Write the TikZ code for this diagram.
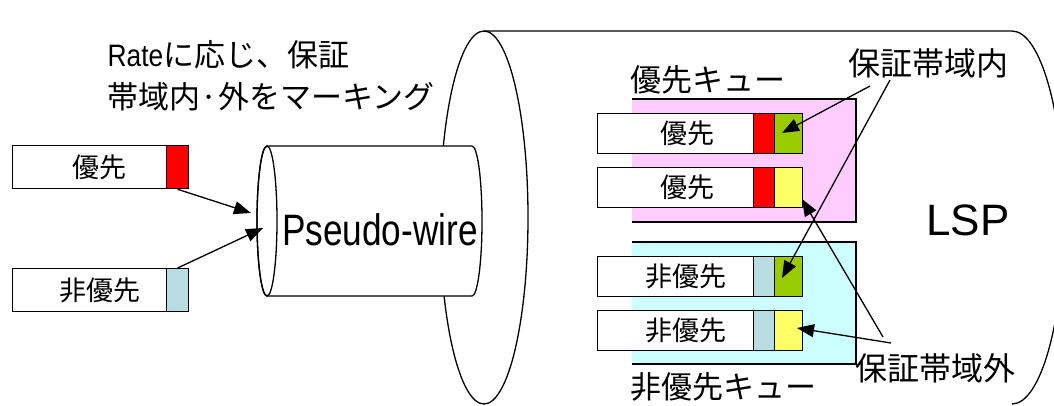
\documentclass[tikz,border=0pt]{standalone}
\usepackage{fontspec}
\setmainfont{Liberation Sans}
\newfontfamily\jp{Noto Sans CJK JP}
\usetikzlibrary{arrows.meta}
\definecolor{pinkq}{HTML}{FFCCFF}
\definecolor{cyanq}{HTML}{CCFFFF}
\definecolor{redp}{HTML}{FF0000}
\definecolor{greenp}{HTML}{99CC00}
\definecolor{yellowp}{HTML}{FFFF66}
\definecolor{bluep}{HTML}{B7DDE3}
\begin{document}
\begin{tikzpicture}[x=1pt,y=-1pt,line width=1.3pt,
  cell/.style={draw,line width=1.3pt,inner sep=0pt,anchor=north west,minimum height=#1},
  cell/.default=40pt,
  txt/.style={inner sep=0pt,font=\jp\fontsize{31pt}{33pt}\selectfont},
  ptxt/.style={inner sep=0pt,font=\jp\fontsize{27pt}{29pt}\selectfont},
  lbl/.style={inner sep=0pt,anchor=west,font=\jp\fontsize{32pt}{34pt}\selectfont},
  arr/.style={-{Triangle[length=17pt,width=13pt]},line width=1.3pt}]
\useasboundingbox (0,0) rectangle (1054,405);
% LSP cylinder
\begin{scope}
\clip (0,0) rectangle (1054,405);
\draw (484,217.5) ellipse [x radius=44, y radius=186.5];
\draw (484,31) -- (1012,31) arc[start angle=-90,end angle=90,x radius=52,y radius=186.5];
\end{scope}
\node[inner sep=0pt,font=\fontsize{44pt}{44pt}\selectfont] (lsp) at (968,220) {LSP};
% Pseudo-wire cylinder
\draw[fill=white] (267,146) -- (472,146) arc[start angle=-90,end angle=90,x radius=10,y radius=75]
  -- (267,296) arc[start angle=90,end angle=270,x radius=10,y radius=75] -- cycle;
\draw (267,221) ellipse [x radius=10, y radius=75];
\node[inner sep=0pt] (pw) at (380,230) {\scalebox{0.8}[1]{\fontsize{44pt}{44pt}\selectfont Pseudo-wire}};
% top-left text
\node[txt,anchor=west] (t1) at (107,55) {\scalebox{0.85}[1]{\rmfamily Rate}に応じ、保証};
\node[txt,anchor=west] (t2) at (107,97) {帯域内·外をマーキング};
% left packets
\node[cell=43pt,fill=white,minimum width=154pt] (w1) at (12,145) {};
\node[cell=43pt,fill=redp,minimum width=22pt] (r1) at (166,145) {};
\node[ptxt] (l1) at (99,167) {優先};
\node[cell=43pt,fill=white,minimum width=154pt] (w2) at (12,268) {};
\node[cell=43pt,fill=bluep,minimum width=22pt] (b2) at (166,268) {};
\node[ptxt] (l2) at (100,290) {非優先};
\coordinate (pwin1) at (251,213);
\coordinate (pwin2) at (263,228);
\draw[arr] (r1.south) -- (pwin1);
\draw[arr] (b2.north) -- (pwin2);
% queues
\fill[pinkq] (632,99) rectangle (856,222);
\draw (632,99) -- (856,99) -- (856,222) -- (632,222);
\fill[cyanq] (632,242) rectangle (856,364);
\draw (632,242) -- (856,242) -- (856,364) -- (632,364);
\node[txt,anchor=west] (q1) at (630,80) {優先キュー};
\node[txt,anchor=west] (q2) at (630,387) {非優先キュー};
% queue packets
\node[cell,fill=white,minimum width=156pt] (wa) at (597,113) {};
\node[cell,fill=redp,minimum width=21pt] (ca) at (753,113) {};
\node[cell,fill=greenp,minimum width=28pt] (ga) at (774,113) {};
\node[ptxt] (la) at (687,133) {優先};
\node[cell,fill=white,minimum width=156pt] (wb) at (597,167) {};
\node[cell,fill=redp,minimum width=21pt] (cb) at (753,167) {};
\node[cell,fill=yellowp,minimum width=28pt] (yb) at (774,167) {};
\node[ptxt] (lb) at (687,187) {優先};
\node[cell,fill=white,minimum width=156pt] (wc) at (597,256) {};
\node[cell,fill=bluep,minimum width=21pt] (cc) at (753,256) {};
\node[cell,fill=greenp,minimum width=28pt] (gc) at (774,256) {};
\node[ptxt] (lc) at (686,276) {非優先};
\node[cell,fill=white,minimum width=156pt] (wd) at (597,310) {};
\node[cell,fill=bluep,minimum width=21pt] (cd) at (753,310) {};
\node[cell,fill=yellowp,minimum width=28pt] (yd) at (774,310) {};
\node[ptxt] (ld) at (686,330) {非優先};
% labels
\node[lbl] (in) at (848,63) {保証帯域内};
\node[lbl] (out) at (855,368) {保証帯域外};
\coordinate (s1) at (870,86);
\coordinate (s2) at (890,80);
\coordinate (s3) at (883,337);
\coordinate (s4) at (891,343);
\coordinate (e1) at (782,133);
\coordinate (e2) at (782,278);
\coordinate (e3) at (802,199);
\coordinate (e4) at (797,328);
\draw[arr] (s1) -- (e1);
\draw[arr] (s2) -- (e2);
\draw[arr] (s3) -- (e3);
\draw[arr] (s4) -- (e4);
\end{tikzpicture}
\end{document}
